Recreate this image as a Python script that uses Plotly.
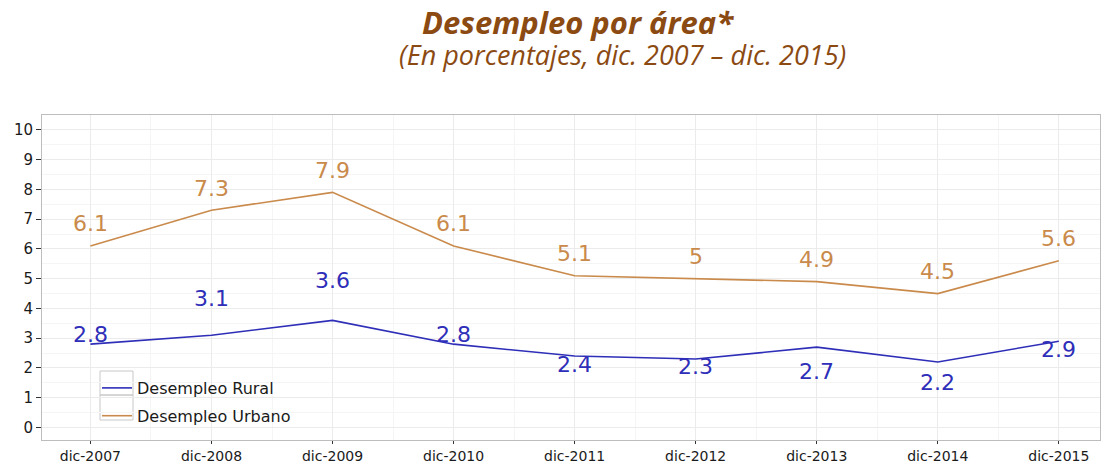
import plotly.graph_objects as go

categories = ["dic-2007", "dic-2008", "dic-2009", "dic-2010", "dic-2011",
              "dic-2012", "dic-2013", "dic-2014", "dic-2015"]
rural = [2.8, 3.1, 3.6, 2.8, 2.4, 2.3, 2.7, 2.2, 2.9]
urbano = [6.1, 7.3, 7.9, 6.1, 5.1, 5.0, 4.9, 4.5, 5.6]
y_ticks = list(range(0, 11))

# label pixel offsets (style only)
rural_shift = [10, 37, 40, 10, -8, -7, -24, -20, -8]
urbano_shift = [22] * 9

RURAL_C = "#2E2EB8"
URB_C = "#C98A4B"
TITLE_C = "#8B4A12"

W, H = 1104, 464
L, R, T, B = 42, 4, 115, 24
PW, PH = W - L - R, H - T - B

def px(xp):
    return (xp - L) / PW

def py(yp):
    return (H - B - yp) / PH

x = list(range(len(categories)))

fig = go.Figure()
fig.add_trace(go.Scatter(x=x, y=rural, mode="lines", name="Desempleo Rural",
                         line=dict(color=RURAL_C, width=1.6), legendgroup="r"))
fig.add_trace(go.Scatter(x=x, y=urbano, mode="lines", name="Desempleo Urbano",
                         line=dict(color=URB_C, width=1.6), legendgroup="u"))

def fmt(v):
    return str(int(v)) if float(v).is_integer() else f"{v:g}"

for xi, v, s in zip(x, rural, rural_shift):
    fig.add_annotation(x=xi, y=v, text=fmt(v), showarrow=False, yshift=s,
                       font=dict(family="DejaVu Sans", size=22, color=RURAL_C))
for xi, v, s in zip(x, urbano, urbano_shift):
    fig.add_annotation(x=xi, y=v, text=fmt(v), showarrow=False, yshift=s,
                       font=dict(family="DejaVu Sans", size=22, color=URB_C))

fig.add_annotation(xref="paper", yref="paper", x=px(578), y=py(22), yanchor="middle",
                   text="<b><i>Desempleo por área*</i></b>", showarrow=False,
                   font=dict(family="Open Sans", size=31, color=TITLE_C))
fig.add_annotation(xref="paper", yref="paper", x=px(622), y=py(54), yanchor="middle",
                   text="<i>(En porcentajes, dic. 2007 – dic. 2015)</i>", showarrow=False,
                   font=dict(family="Open Sans", size=27, color=TITLE_C))

# legend key boxes
for y0, y1 in [(371, 395), (395, 420)]:
    fig.add_shape(type="rect", xref="paper", yref="paper",
                  x0=px(100), x1=px(133), y0=py(y1), y1=py(y0),
                  line=dict(color="#C8C8C8", width=1), fillcolor="rgba(0,0,0,0)",
                  layer="below")

fig.update_layout(
    width=W, height=H,
    margin=dict(l=L, r=R, t=T, b=B, autoexpand=False),
    paper_bgcolor="white", plot_bgcolor="white",
    showlegend=True,
    legend=dict(x=px(97), y=py(371), xanchor="left", yanchor="top",
                bgcolor="rgba(0,0,0,0)", traceorder="grouped", tracegroupgap=4,
                font=dict(family="DejaVu Sans", size=16, color="#1a1a1a")),
    font=dict(family="DejaVu Sans"),
)
fig.update_xaxes(range=[-0.4, 8.34], tickvals=x, ticktext=categories, automargin=False,
                 showgrid=True, gridcolor="#EBEBEB", gridwidth=1,
                 minor=dict(dtick=0.5, tick0=0.5, showgrid=True, gridcolor="#F5F5F5"),
                 ticks="outside", ticklen=3, tickcolor="#333",
                 tickfont=dict(family="DejaVu Sans", size=14, color="#1a1a1a"),
                 showline=True, linecolor="#BDBDBD", mirror=True, zeroline=False)
fig.update_yaxes(range=[-0.42, 10.5], tickvals=y_ticks, automargin=False,
                 showgrid=True, gridcolor="#EBEBEB", gridwidth=1,
                 minor=dict(dtick=0.5, tick0=0.5, showgrid=True, gridcolor="#F5F5F5"),
                 ticks="outside", ticklen=5, tickcolor="#333",
                 tickfont=dict(family="DejaVu Sans", size=15, color="#1a1a1a"),
                 showline=True, linecolor="#BDBDBD", mirror=True, zeroline=False)

fig.write_html("out.html", config={"displayModeBar": False},
               post_script="document.body.style.margin='0';")
